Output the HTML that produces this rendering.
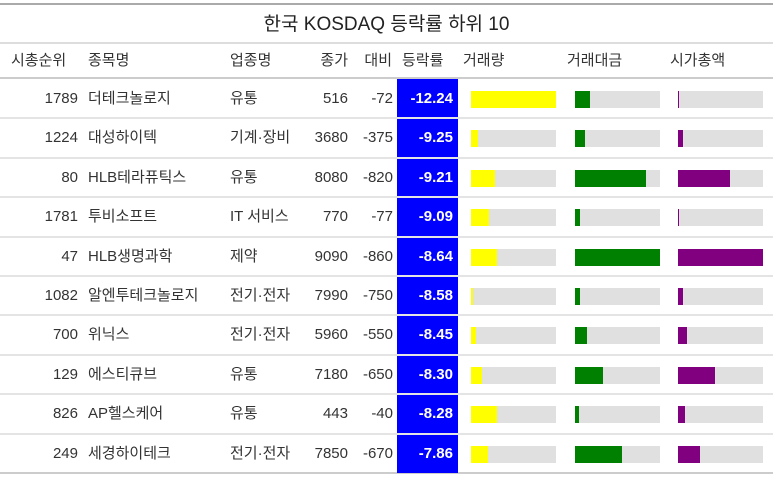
<!DOCTYPE html>
<html><head><meta charset="utf-8"><style>
body{margin:0;background:#fff;width:773px;height:479px;overflow:hidden;position:relative;font-family:"Liberation Sans","Noto Sans CJK KR",sans-serif;color:#333;}
.a{position:absolute;white-space:nowrap;font-size:15px;line-height:20px;}
.r{text-align:right;}
.hl{position:absolute;left:0;width:773px;}
</style></head><body>
<div class="hl" style="top:3px;height:2px;background:#aaa"></div>
<div class="a" style="left:0;width:773px;text-align:center;top:12px;font-size:19px;line-height:26px;color:#222">한국 KOSDAQ 등락률 하위 10</div>
<div class="hl" style="top:42px;height:2px;background:#ddd"></div>
<div class="hl" style="top:77px;height:2px;background:#ccc"></div>
<div class="hl" style="top:472px;height:2px;background:#ccc"></div>
<div class="a" style="left:11px;top:51px">시총순위</div>
<div class="a" style="left:88px;top:51px">종목명</div>
<div class="a" style="left:230px;top:51px">업종명</div>
<div class="a r" style="left:300px;width:48px;top:51px">종가</div>
<div class="a r" style="left:352px;width:40px;top:51px">대비</div>
<div class="a" style="left:402px;top:51px">등락률</div>
<div class="a" style="left:463px;top:51px">거래량</div>
<div class="a" style="left:567px;top:51px">거래대금</div>
<div class="a" style="left:670px;top:51px">시가총액</div>
<div id="rows"></div>
<script>
const ranks=[1789,1224,80,1781,47,1082,700,129,826,249];
const names=["더테크놀로지","대성하이텍","HLB테라퓨틱스","투비소프트","HLB생명과학","알엔투테크놀로지","위닉스","에스티큐브","AP헬스케어","세경하이테크"];
const sectors=["유통","기계·장비","유통","IT 서비스","제약","전기·전자","전기·전자","유통","유통","전기·전자"];
const prices=[516,3680,8080,770,9090,7990,5960,7180,443,7850];
const changes=[-72,-375,-820,-77,-860,-750,-550,-650,-40,-670];
const rates=["-12.24","-9.25","-9.21","-9.09","-8.64","-8.58","-8.45","-8.30","-8.28","-7.86"];
const volume=[1,0.086,0.28,0.21,0.31,0.024,0.06,0.13,0.31,0.2];
const tradeValue=[0.18,0.12,0.83,0.06,1,0.06,0.145,0.33,0.05,0.55];
const mcap=[0.01,0.055,0.61,0.01,1,0.055,0.1,0.44,0.08,0.26];
const root=document.getElementById('rows');
const top0=79,pitch=39.4;
function mk(cls,style,text){const d=document.createElement('div');d.className=cls;d.style.cssText=style;if(text!==undefined)d.textContent=text;root.appendChild(d);return d;}
const blue=mk('','position:absolute;left:397px;top:79px;width:61px;height:394px;background:#0000ff');


function bar(x,y,frac,color,nm){
  const bg=mk('','position:absolute;left:'+x+'px;top:'+y+'px;width:85px;height:17px;background:#e0e0e0');
  
  
  const f=mk('','position:absolute;left:'+x+'px;top:'+y+'px;width:'+Math.max(1,frac*85)+'px;height:17px;background:'+color);
  
  
}
for(let i=0;i<ranks.length;i++){
  const y=top0+i*pitch, ty=y+10;
  if(i<ranks.length-1){const s=mk('hl','top:'+(y+pitch-1)+'px;height:2px;background:#e4e4e4');
    
    }
  let e;
  e=mk('a r','left:20px;width:58px;top:'+ty+'px',ranks[i]);
  
  
  e=mk('a','left:88px;top:'+ty+'px',names[i]);
  
  
  e=mk('a','left:230px;top:'+ty+'px',sectors[i]);
  
  
  e=mk('a r','left:300px;width:48px;top:'+ty+'px',prices[i]);
  
  
  e=mk('a r','left:352px;width:41px;top:'+ty+'px',changes[i]);
  
  
  e=mk('a r','left:398px;width:55px;top:'+ty+'px;color:#fff;font-weight:bold',rates[i]);
  
  
  bar(471,y+12,volume[i],'#ffff00','volume');
  bar(575,y+12,tradeValue[i],'#008000','trade-value');
  bar(678,y+12,mcap[i],'#800080','market-cap');
}
</script>
</body></html>
